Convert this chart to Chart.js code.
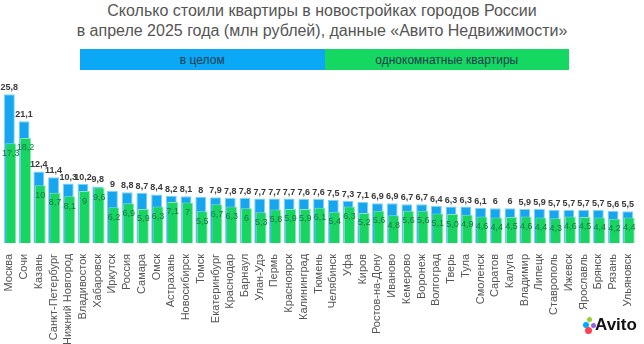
<!DOCTYPE html>
<html>
<head>
<meta charset="utf-8">
<script src="https://cdn.jsdelivr.net/npm/chart.js@4"></script>
<style>
  html, body { margin:0; padding:0; background:#fff; }
  body { width:644px; height:344px; position:relative; overflow:hidden; font-family:'Liberation Sans Narrow','Liberation Sans',Arial,sans-serif; }
  #title { position:absolute; top:1px; left:0; width:644px; text-align:center; color:#555; font-size:16px; line-height:20px; }
  #legend { position:absolute; top:49px; left:80px; width:489px; height:21px; display:flex; font-size:12px; color:#1d3b4c; }
  #legend div { flex:1; display:flex; align-items:center; justify-content:center; }
  #chartBox { position:absolute; left:0; top:0; width:644px; height:348px; }
  #logo { position:absolute; left:582px; top:313px; font-family:'Liberation Sans',Arial,sans-serif; font-weight:bold; font-size:17px; color:#111; }
  #logo .d { position:absolute; border-radius:50%; }
</style>
</head>
<body>
<div id="title">Сколько стоили квартиры в новостройках городов России<br>в апреле 2025 года (млн рублей), данные «Авито Недвижимости»</div>
<div id="legend">
  <div style="background:#0aa8f5">в целом</div>
  <div style="background:#14d862">однокомнатные квартиры</div>
</div>
<div id="chartBox"><canvas id="chart"></canvas></div>
<div id="logo">
  <span class="d" style="left:1px;top:9px;width:6px;height:6px;background:#00aaff"></span>
  <span class="d" style="left:5px;top:4px;width:5px;height:5px;background:#97cf26"></span>
  <span class="d" style="left:3px;top:14px;width:7px;height:7px;background:#ff4053"></span>
  <span class="d" style="left:9px;top:10px;width:5px;height:5px;background:#965eeb"></span>
  <span style="position:absolute;left:13px;top:2px">Avito</span>
</div>
<script>
const cities = ['Москва','Сочи','Казань','Санкт-Петербург','Нижний Новгород','Владивосток','Хабаровск','Иркутск','Россия','Самара','Омск','Астрахань','Новосибирск','Томск','Екатеринбург','Краснодар','Барнаул','Улан-Удэ','Пермь','Красноярск','Калининград','Тюмень','Челябинск','Уфа','Киров','Ростов-на-Дону','Иваново','Кемерово','Воронеж','Волгоград','Тверь','Тула','Смоленск','Саратов','Калуга','Владимир','Липецк','Ставрополь','Ижевск','Ярославль','Брянск','Рязань','Ульяновск']
const overall = [25.8,21.1,12.4,11.4,10.3,10.2,9.8,9,8.8,8.7,8.4,8.2,8.1,8,7.9,7.8,7.8,7.7,7.7,7.7,7.6,7.6,7.5,7.3,7.1,6.9,6.9,6.7,6.7,6.4,6.3,6.3,6.1,6,6,5.9,5.9,5.7,5.7,5.7,5.7,5.6,5.5]
const oneRoom = [17.3,18.2,10,8.7,8.1,9,9.6,6.2,6.9,5.9,6.3,7.1,7,5.5,6.7,6.3,6,5.3,5.8,5.9,5.9,6.1,5.4,6.3,5.2,5.6,4.8,5.6,5.6,5.1,5.0,4.9,4.6,4.4,4.5,4.6,4.4,4.3,4.6,4.5,4.4,4.2,4.4]
const oneRoomText = oneRoom.map((v,i) => (i===30 ? '5,0' : String(v).replace('.',',')))

const GREEN_SHIFT = 1.5

const fmt = v => String(v).replace('.',',')

const valueLabels = {
  id: 'valueLabels',
  beforeDatasetDraw(chart, args) {
    if (args.index === 1) { chart.ctx.save(); chart.ctx.translate(GREEN_SHIFT, 0) }
  },
  afterDatasetDraw(chart, args) {
    if (args.index === 1) chart.ctx.restore()
  },
  afterDatasetsDraw(chart) {
    const ctx = chart.ctx
    ctx.save()
    ctx.textAlign = 'center'
    const blue = chart.getDatasetMeta(0).data
    ctx.font = 'bold 9px "Liberation Sans Narrow", "Liberation Sans", Arial'
    ctx.fillStyle = '#3a3a3a'
    ctx.textBaseline = 'bottom'
    blue.forEach((b,i) => ctx.fillText(fmt(overall[i]), b.x, b.y - 2))
    const green = chart.getDatasetMeta(1).data
    ctx.font = '9px "Liberation Sans Narrow", "Liberation Sans", Arial'
    ctx.fillStyle = '#137a3c'
    ctx.textBaseline = 'middle'
    green.forEach((b,i) => ctx.fillText(oneRoomText[i], b.x + GREEN_SHIFT, b.y + 10))
    ctx.restore()
  }
}

new Chart(document.getElementById('chart'), {
  type: 'bar',
  data: {
    labels: cities,
    datasets: [
      { label: 'в целом', data: overall, backgroundColor: '#16a6f0', borderColor: '#7fd3f7', borderWidth: 1, order: 2, grouped: false, barPercentage: 0.74, categoryPercentage: 1 },
      { label: 'однокомнатные квартиры', data: oneRoom, backgroundColor: '#18d562', borderColor: '#86e8b0', borderWidth: 1, order: 1, grouped: false, barPercentage: 0.74, categoryPercentage: 1 }
    ]
  },
  options: {
    responsive: true, maintainAspectRatio: false, animation: false,
    layout: { padding: { top: 80, left: 2, right: 2, bottom: 0 } },
    plugins: { legend: { display: false }, tooltip: { enabled: false } },
    scales: {
      x: {
        grid: { display: false }, border: { display: false },
        ticks: { minRotation: 90, maxRotation: 90, autoSkip: false, color: '#555', padding: 3, font: { family: '"Liberation Sans Narrow", "Liberation Sans", Arial', size: 11 } }
      },
      y: { display: false, min: 0, max: 28.25 }
    }
  },
  plugins: [valueLabels]
})
</script>
</body>
</html>
